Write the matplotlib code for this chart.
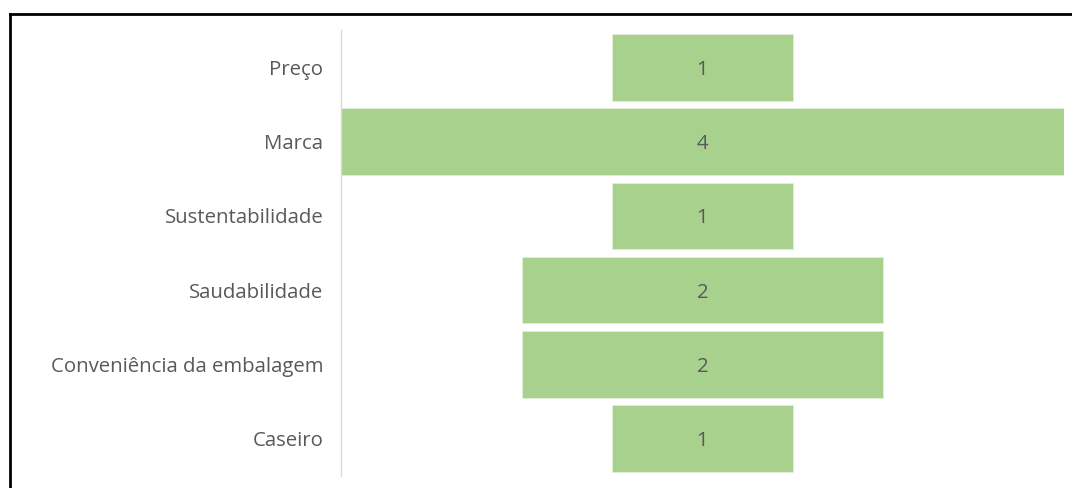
import matplotlib
matplotlib.use("Agg")
import matplotlib.pyplot as plt
from matplotlib.lines import Line2D

categories = ["Preço", "Marca", "Sustentabilidade", "Saudabilidade",
              "Conveniência da embalagem", "Caseiro"]
values = [1, 4, 1, 2, 2, 1]

W, H = 1072, 488
fig = plt.figure(figsize=(W / 100, H / 100), dpi=100)
fig.patch.set_facecolor("white")

# axes box in pixel coordinates
left, right, top, bottom = 341, 1064, 30.4, 475.6
ax = fig.add_axes([left / W, 1 - bottom / H, (right - left) / W, (bottom - top) / H])

fonts = ["Open Sans", "DejaVu Sans"]
text_color = "#595959"
bar_color = "#A9D18E"
fs = 14.7

ypos = list(range(len(categories)))
lefts = [-v / 2 for v in values]
ax.barh(ypos, values, left=lefts, height=0.9, color=bar_color,
        edgecolor="#E2EFDA", linewidth=0.6)

for y, v in zip(ypos, values):
    ax.text(0, y, str(v), ha="center", va="center_baseline", fontsize=fs,
            color=text_color, family=fonts)

ax.set_xlim(-max(values) / 2, max(values) / 2)
ax.set_ylim(len(categories) - 0.5, -0.5)
ax.set_yticks(ypos)
ax.set_yticklabels(categories, fontsize=fs, color=text_color, family=fonts,
                   va="center_baseline")
ax.tick_params(axis="y", length=0, pad=12.7)
ax.set_xticks([])
for side in ["top", "right", "bottom"]:
    ax.spines[side].set_visible(False)
ax.spines["left"].set_color("#D9D9D9")
ax.spines["left"].set_linewidth(1.0)
ax.set_facecolor("none")

# frame lines along top and left edge
fig.add_artist(Line2D([10 / W, 1.0], [1 - 14 / H, 1 - 14 / H],
                      transform=fig.transFigure, color="black", linewidth=2))
fig.add_artist(Line2D([10 / W, 10 / W], [1 - 14 / H, 0],
                      transform=fig.transFigure, color="black", linewidth=2))

fig.savefig("out.png", dpi=100, facecolor="white")
